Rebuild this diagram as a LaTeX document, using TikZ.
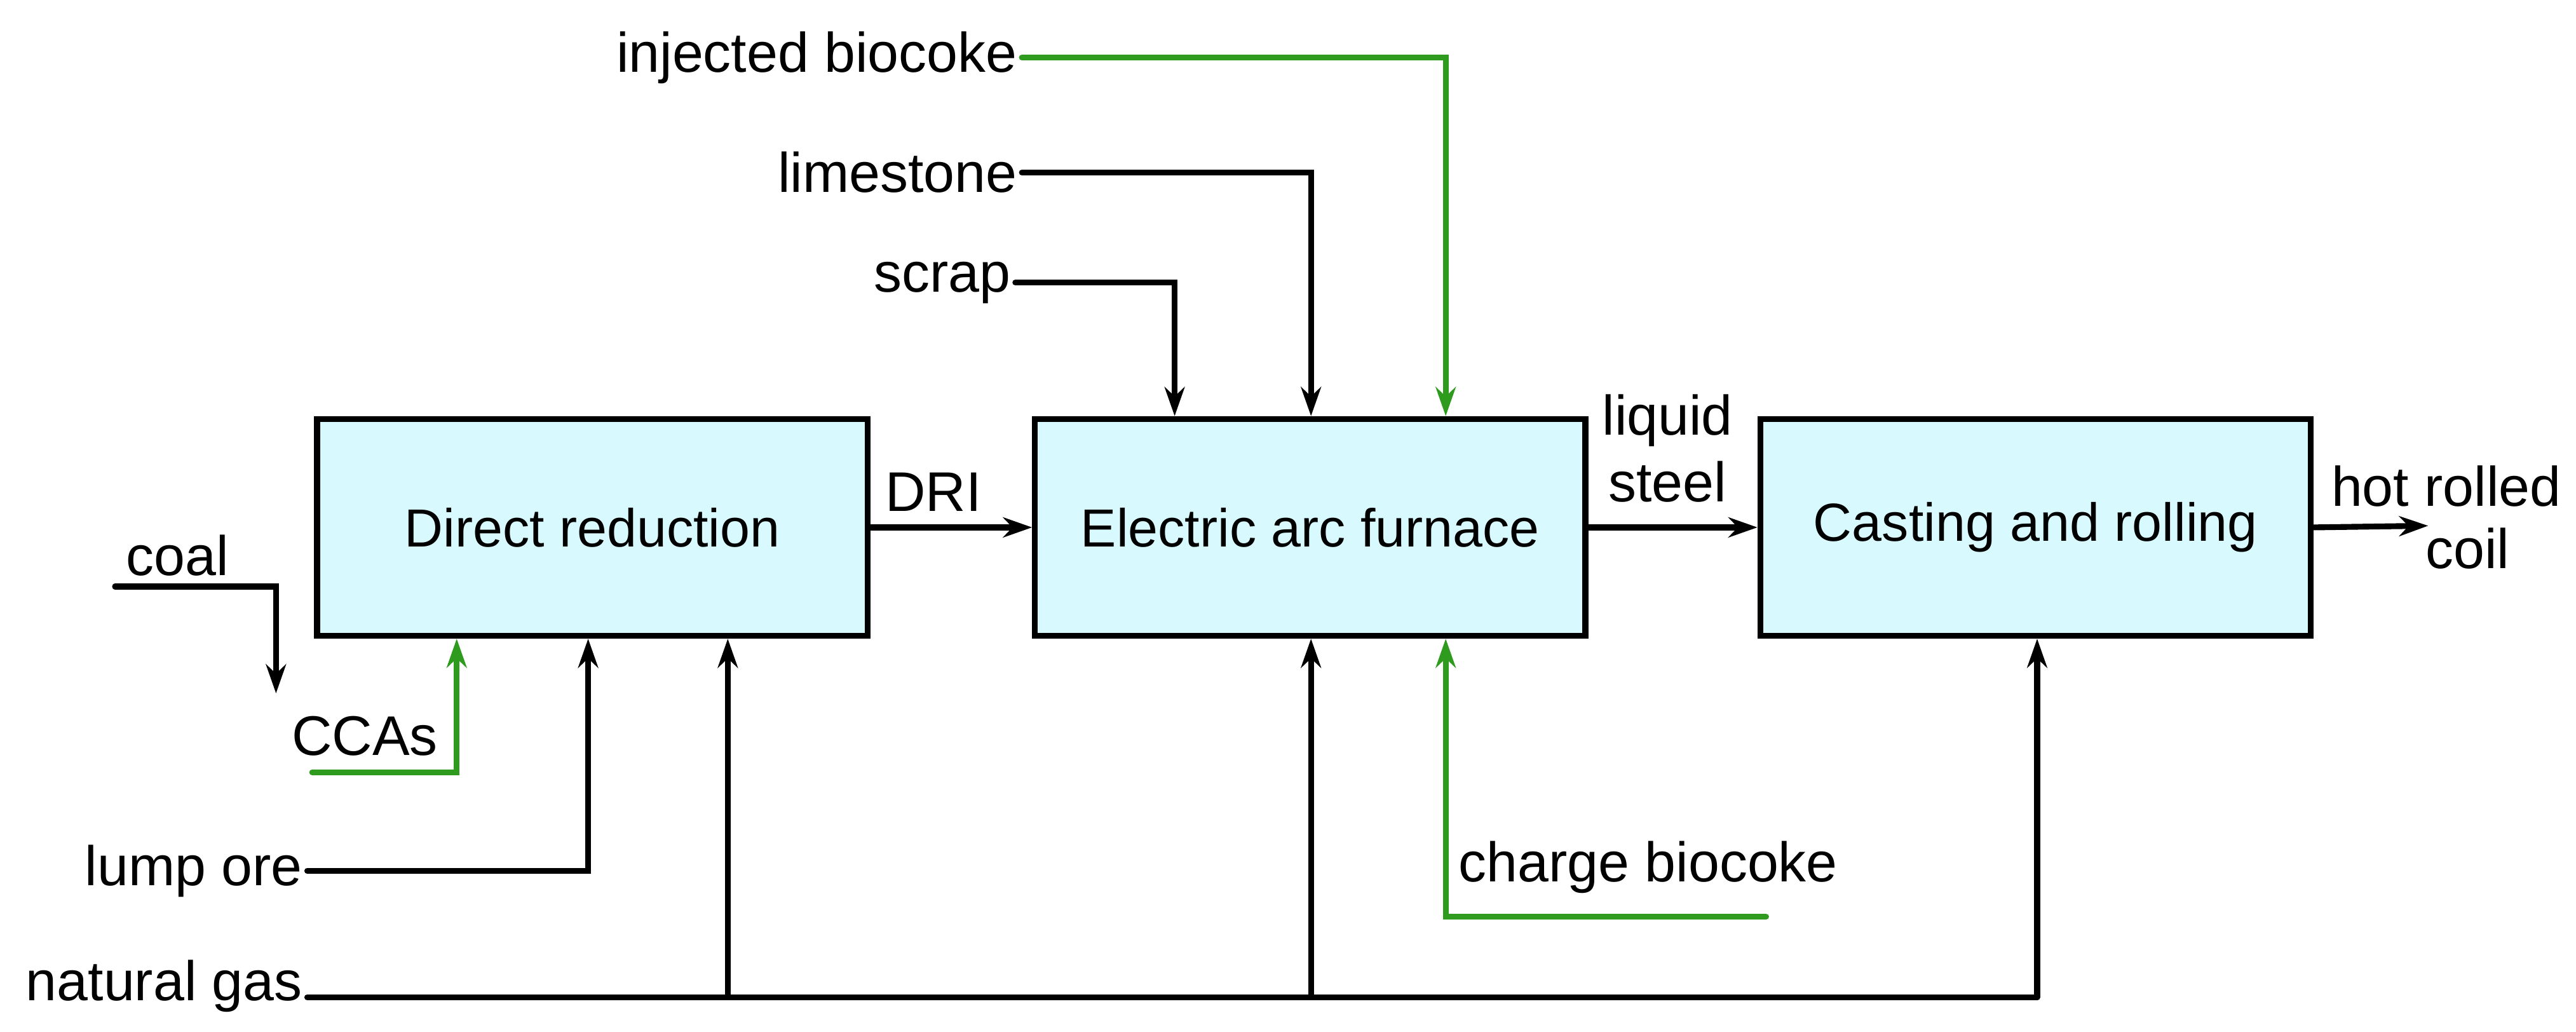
\documentclass[tikz,border=0pt]{standalone}
\usepackage{fontspec}
\setmainfont{Liberation Sans}
\usetikzlibrary{arrows.meta}
\definecolor{boxfill}{HTML}{D8FAFF}
\definecolor{grn}{HTML}{2E9A1E}
\begin{document}
\begin{tikzpicture}[x=0.02585cm,y=-0.02585cm,
  box/.style={draw=black,line width=2.6pt,fill=boxfill,minimum width=335*0.02585cm,minimum height=132*0.02585cm,inner sep=0pt,font=\fontsize{24}{29}\selectfont},
  lbl/.style={font=\fontsize{25}{30}\selectfont,inner sep=2pt},
  ln/.style={line width=2.6pt,line cap=round,line join=miter},
  ar/.style={ln,-{Stealth[length=13pt,width=9pt]}},
  g/.style={draw=grn}]
\useasboundingbox (0,0) rectangle (1568,628);
\node[box] (dr) at (360.5,321) {Direct reduction};
\node[box] (eaf) at (797.5,321) {Electric arc furnace};
\node[box] (cr) at (1239,321) {Casting and rolling};
% top inputs
\node[lbl,anchor=east] (ib) at (622,35) {injected biocoke};
\draw[ar,g] (ib.east) -| (eaf.north -| 880,0);
\node[lbl,anchor=east] (ls) at (622,105) {limestone};
\draw[ar] (ls.east) -| (eaf.north -| 798,0);
\node[lbl,anchor=east] (sc) at (618,172) {scrap};
\draw[ar] (sc.east) -| (eaf.north -| 715,0);
% main line
\draw[ar] (dr.east) -- node[lbl,above=4pt,xshift=-8pt]{DRI} (eaf.west);
\draw[ar] (eaf.east) -- (cr.west);
\node[lbl,align=center] (lq) at (1015,273) {liquid\\steel};
\coordinate (hre) at (1478,320);
\draw[ar] (cr.east) -- (hre);
\node[lbl] (hr) at (1489,296) {hot rolled};
\node[lbl] (coil) at (1502,334) {coil};
% coal / CCAs
\node[lbl] (coal) at (108,338) {coal};
\coordinate (c0) at (70,357);
\coordinate (c1) at (168,422);
\draw[ar] (c0) -| (c1);
\node[lbl] (cca) at (222,448) {CCAs};
\coordinate (g0) at (190,470);
\draw[ar,g] (g0) -| (dr.south -| 278,0);
\node[lbl,anchor=east] (lo) at (187,530) {lump ore};
\draw[ar] (lo.east) -| (dr.south -| 358,0);
\node[lbl,anchor=east] (ng) at (187,600) {natural gas};
\coordinate (ngend) at (1240,607);
\draw[ln] (ng.east |- 0,607) -- (ngend);
\draw[ar] (443,607) -- (dr.south -| 443,0);
\draw[ar] (798,607) -- (eaf.south -| 798,0);
\draw[ar] (ngend) -- (cr.south -| 1240,0);
% charge biocoke
\node[lbl,anchor=west] (cb) at (885,528) {charge biocoke};
\coordinate (cb0) at (1075,558);
\draw[ar,g] (cb0) -| (eaf.south -| 880,0);
\end{tikzpicture}
\end{document}
